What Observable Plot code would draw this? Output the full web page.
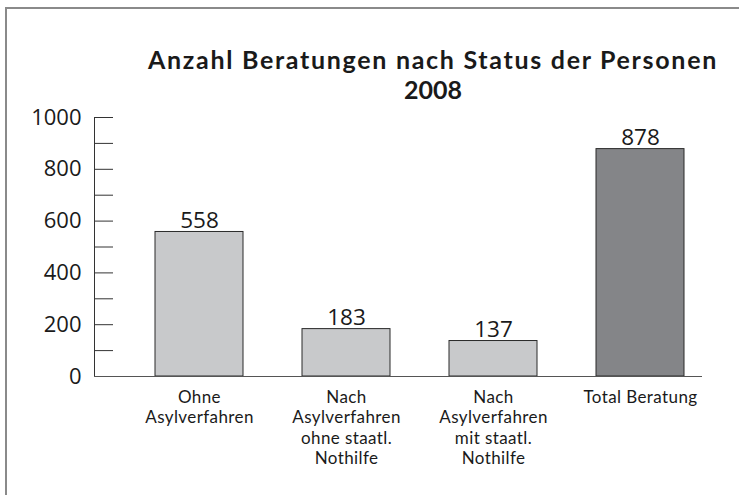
<!DOCTYPE html>
<html>
<head>
<meta charset="utf-8">
<script src="https://cdn.jsdelivr.net/npm/d3@7"></script>
<script src="https://cdn.jsdelivr.net/npm/@observablehq/plot@0.6"></script>
<style>
  html, body { margin: 0; padding: 0; background: #fff; }
  #wrap { position: relative; width: 739px; height: 495px; overflow: hidden; }
  #border { position: absolute; left: 5px; top: 7px; width: 760px; height: 520px;
            border-left: 2px solid #8a8a8a; border-top: 2px solid #8a8a8a; }
  #title { position: absolute; left: 83px; width: 700px; top: 44px; text-align: center;
           font-family: Lato, sans-serif; font-weight: bold; font-size: 25px;
           line-height: 30px; color: #1a1a1a; white-space: nowrap; }
  #title span { display: inline-block; }
  #chart { position: absolute; left: 0; top: 0; }
  g[aria-label="x-axis tick label"] text { letter-spacing: 0.4px; }
</style>
</head>
<body>
<div id="wrap">
  <div id="border"></div>
  <div id="chart"></div>
  <div id="title"><span id="t1">Anzahl Beratungen nach Status der Personen</span><br><span id="t2">2008</span></div>
</div>
<script>
const categories = [
  "Ohne\nAsylverfahren",
  "Nach\nAsylverfahren\nohne staatl.\nNothilfe",
  "Nach\nAsylverfahren\nmit staatl.\nNothilfe",
  "Total Beratung"
];
const values = [558, 183, 137, 878];
const kinds = ["Teil", "Teil", "Teil", "Total"];
const yLabelTicks = [0, 200, 400, 600, 800, 1000];
const yMinorTicks = [0, 100, 200, 300, 400, 500, 600, 700, 800, 900, 1000];

const data = categories.map((c, i) => ({category: c, value: values[i], kind: kinds[i]}));

const chart = Plot.plot({
  width: 739,
  height: 495,
  marginLeft: 94,
  marginRight: 37,
  marginTop: 117,
  marginBottom: 119,
  style: {fontFamily: "'Open Sans', sans-serif", color: "#1a1a1a", background: "transparent"},
  x: {domain: categories, paddingInner: 0.4, paddingOuter: 0.268, align: 0.774, label: null},
  y: {domain: [0, 1000], label: null},
  color: {domain: ["Teil", "Total"], range: ["#c8c9cb", "#848588"]},
  marks: [
    Plot.barY(data, {x: "category", y: "value", fill: "kind", stroke: "#2a2a2a", strokeWidth: 1}),
    Plot.text(data, {x: "category", y: "value", text: d => String(d.value), dy: -4,
      lineAnchor: "bottom", fontSize: 22.5, fill: "#1a1a1a"}),
    Plot.axisY(yMinorTicks, {tickSize: -19, text: null, stroke: "#333"}),
    Plot.axisY(yLabelTicks, {tickSize: 0, tickPadding: 13, fontSize: 22, fill: "#1a1a1a",
      tickFormat: d => String(d)}),
    Plot.axisX({tickSize: 0, tickPadding: 12, fontSize: 17, lineHeight: 1.2, fill: "#1a1a1a",
      fontFamily: "Lato, sans-serif"}),
    Plot.frame({anchor: "left", stroke: "#333"}),
    Plot.ruleY([0], {stroke: "#555"})
  ]
});
document.getElementById("chart").appendChild(chart);

// stretch title line 1 to the reference width with letter-spacing
const t1 = document.getElementById("t1");
const targetW = 570;
const w = t1.getBoundingClientRect().width;
const n = t1.textContent.length;
t1.style.letterSpacing = ((targetW - w) / n) + "px";
</script>
</body>
</html>
